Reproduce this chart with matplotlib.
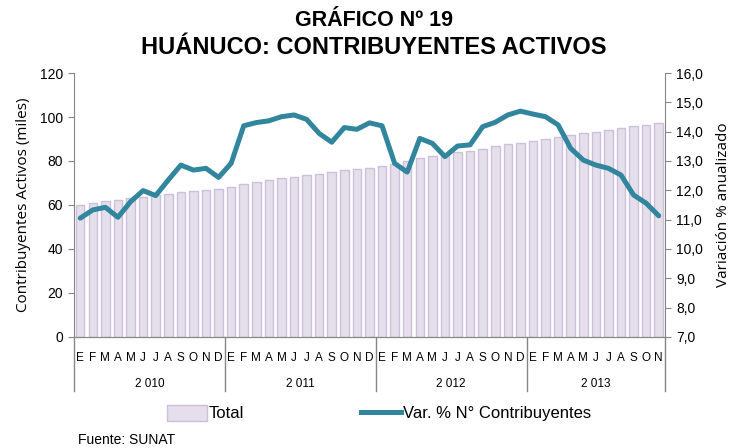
import numpy as np
import matplotlib
matplotlib.use("Agg")
import matplotlib.pyplot as plt
from matplotlib import font_manager
from matplotlib.patches import Patch
from matplotlib.lines import Line2D

# monthly data, Jan 2010 - Nov 2013
months = ["E", "F", "M", "A", "M", "J", "J", "A", "S", "O", "N", "D"] * 3 + \
         ["E", "F", "M", "A", "M", "J", "J", "A", "S", "O", "N"]
years = ["2 010", "2 011", "2 012", "2 013"]
total = [60.1, 60.9, 61.7, 62.4, 63.0, 63.8, 64.4, 65.1, 66.1, 66.5, 66.9, 67.3,
         68.0, 69.6, 70.5, 71.4, 72.3, 72.9, 73.5, 74.3, 75.0, 75.8, 76.4, 76.9,
         77.9, 78.8, 79.9, 81.2, 82.3, 83.2, 84.0, 84.6, 85.6, 86.6, 87.6, 88.2,
         89.3, 90.2, 90.8, 92.0, 92.8, 93.4, 94.2, 94.9, 95.7, 96.4, 97.2]
var_pct = [11.05, 11.33, 11.42, 11.08, 11.61, 11.99, 11.82, 12.35, 12.86, 12.69, 12.75, 12.44,
           12.92, 14.20, 14.31, 14.37, 14.51, 14.57, 14.42, 13.94, 13.64, 14.14, 14.08, 14.30,
           14.20, 12.92, 12.62, 13.77, 13.60, 13.15, 13.51, 13.55, 14.17, 14.32, 14.57, 14.70,
           14.60, 14.51, 14.23, 13.43, 13.03, 12.86, 12.75, 12.52, 11.84, 11.56, 11.13]


def pick(*names):
    have = {f.name for f in font_manager.fontManager.ttflist}
    for n in names:
        if n in have:
            return n
    return "DejaVu Sans"


narrow = pick("Liberation Sans Narrow", "Liberation Sans")
body = pick("Open Sans", "Liberation Sans")
plt.rcParams['font.family'] = [narrow, 'DejaVu Sans']

x = np.arange(len(total))
grey = '#868686'

fig = plt.figure(figsize=(7.32, 4.48), dpi=100)
ax = fig.add_axes([0.101, 0.248, 0.8075, 0.589])
ax.bar(x, total, width=0.68, color='#E5DFEC', edgecolor='#CCC0DA', linewidth=1)
ax.set_xlim(-0.5, len(total) - 0.5)
ax.set_ylim(0, 120)
ax.set_yticks(range(0, 121, 20))
ax.set_ylabel("Contribuyentes Activos (miles)", fontsize=11, family=body, labelpad=6)

ax2 = ax.twinx()
ax2.plot(x, var_pct, color='#31859C', lw=3.6, solid_joinstyle='round', solid_capstyle='round')
ax2.set_ylim(7, 16)
ax2.set_yticks(np.arange(7, 16.1, 1))
ax2.set_yticklabels([f"{v:.1f}".replace('.', ',') for v in np.arange(7, 16.1, 1)])
ax2.set_ylabel("Variación % anualizado", fontsize=11, family=body, labelpad=9)

for a in (ax, ax2):
    a.spines['top'].set_visible(False)
    for s in a.spines.values():
        s.set_color(grey)
    a.tick_params(axis='y', length=4, color=grey, labelsize=10, pad=4)
ax.spines['right'].set_visible(False)
ax2.spines['left'].set_visible(False)

# month labels and year bands under the axis
ax.set_xticks(x)
ax.set_xticklabels(months, fontsize=8.5)
ax.tick_params(axis='x', length=0, pad=11)
tr = ax.get_xaxis_transform()
for k in range(5):
    xb = min(k * 12, len(total)) - 0.5
    ax.plot([xb, xb], [0, -0.205], transform=tr, color=grey, lw=1, clip_on=False)
for k, yr in enumerate(years):
    end = min(k * 12 + 12, len(total))
    ax.text((k * 12 + end - 1) / 2, -0.178, yr, transform=tr, ha='center', va='center', fontsize=8.5)

fig.text(0.511, 0.955, "GRÁFICO Nº 19", ha='center', va='center', fontsize=15.5, weight='bold')
fig.text(0.511, 0.893, "HUÁNUCO: CONTRIBUYENTES ACTIVOS", ha='center', va='center', fontsize=17, weight='bold')

handles = [Patch(facecolor='#E5DFEC', edgecolor='#CCC0DA', label='Total'),
           Line2D([], [], color='#31859C', lw=3.6, label='Var. % N° Contribuyentes')]
fig.legend(handles=handles, loc='center', bbox_to_anchor=(0.518, 0.078), ncol=2, frameon=False,
           fontsize=12, handlelength=2.4, handleheight=1.1, handletextpad=0.1, columnspacing=7)

fig.text(0.107, 0.018, "Fuente: SUNAT", fontsize=10, va='center')

fig.savefig("out.png", dpi=100)
